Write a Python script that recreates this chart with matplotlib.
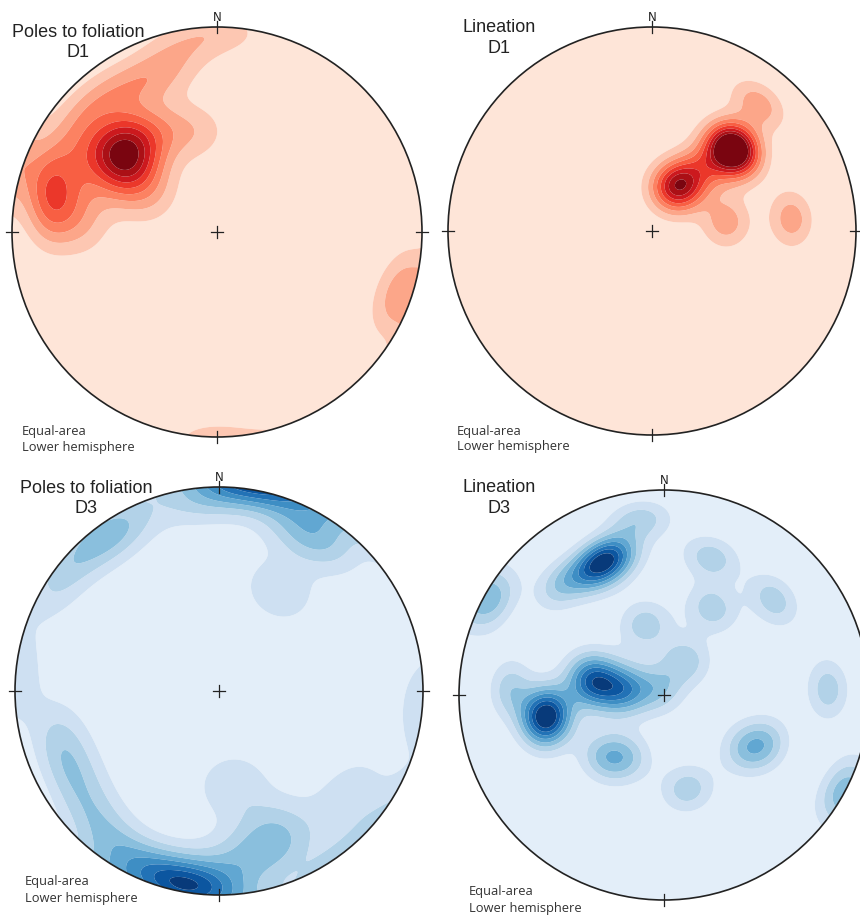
import numpy as np
import matplotlib.pyplot as plt
from matplotlib.patches import Circle

# D1 foliation planes (strike / dip, right-hand rule)
fol_d1_strike = [38.6, 40, 38.5, 38.6, 46.8, 30, 35.8, 48, 28.8, 60.8, 32.8,
                 19, 17.4, 7.6, 6, 3.9, 16,
                 70, 78, 91, 48.4, 59.4, 37,
                 78, 196, 201]
fol_d1_dip = [49, 52.6, 45, 57.4, 45.6, 46.4, 39.2, 56.6, 30.6, 47.6, 63,
              76, 76.8, 69.6, 68.4, 54.2, 63.6,
              69, 80, 87.5, 75, 72.2, 75.6,
              41, 85, 82.2]

# D1 lineations (trend / plunge)
lin_d1_trend = [43, 43, 44, 48, 45, 26, 33, 30, 38, 40, 83, 85]
lin_d1_plunge = [43, 48, 39, 44, 43, 72, 68, 69, 59, 20, 60, 32]

# D3 foliation planes (strike / dip)
fol_d3_strike = [278, 280, 283, 274, 291, 302, 315, 329.7, 263, 249,
                 261.5, 249.2, 219.4, 343, 58, 124, 121, 4.6, 84.3, 34.9,
                 51.8, 116.7]
fol_d3_dip = [85, 84.5, 85, 88, 83, 81, 75, 70.6, 72, 72,
              38.6, 59.6, 70.7, 70, 82, 78, 48, 89.6, 83.4, 84.4,
              83.5, 77.2]

# D3 lineations (trend / plunge)
lin_d3_trend = [335, 336, 329, 341, 352, 317,
                277, 283, 284, 276, 278, 320, 32,
                259, 260, 262, 257, 272, 345,
                299, 118, 19, 29, 49, 88, 116, 123, 212, 224, 166]
lin_d3_plunge = [30, 30, 31, 27, 15, 27,
                 62, 64, 57, 72, 76, 87, 74,
                 41, 42, 45, 36, 26, 61,
                 7, 4, 30, 50, 30, 21, 44, 51, 61, 55, 51]

W, H = 860, 916


def line_vectors(trend, plunge):
    t = np.radians(trend)
    p = np.radians(plunge)
    return np.column_stack([np.cos(p) * np.sin(t), np.cos(p) * np.cos(t), np.sin(p)])


def pole_vectors(strike, dip):
    trend = np.asarray(strike) - 90.0
    plunge = 90.0 - np.asarray(dip)
    return line_vectors(trend, plunge)


def density(vecs, k, n=301):
    # smoothed (exponential) count on an equal-area lower-hemisphere grid
    u, v = np.meshgrid(np.linspace(-1, 1, n), np.linspace(-1, 1, n))
    r = np.clip(np.hypot(u, v), 0, 1)
    theta = 2 * np.arcsin(r / np.sqrt(2))
    az = np.arctan2(u, v)
    g = np.stack([np.sin(theta) * np.sin(az), np.sin(theta) * np.cos(az), np.cos(theta)], axis=-1)
    c = np.abs(g @ vecs.T)
    return u, v, np.exp(k * (c - 1)).sum(axis=-1)


def stereonet(cx, cy, R):
    ax = fig.add_axes([(cx - 1.15 * R) / W, (H - cy - 1.15 * R) / H, 2.3 * R / W, 2.3 * R / H])
    ax.set_xlim(-1.15, 1.15)
    ax.set_ylim(-1.15, 1.15)
    ax.axis("off")
    return ax


def draw_net(ax, vecs, k, step, cmap):
    u, v, d = density(vecs, k)
    levels = [-1] + [step * i for i in range(1, 9)] + [1e9]
    colors = plt.get_cmap(cmap)(np.linspace(0.1, 0.96, 9))
    clip = Circle((0, 0), 1, transform=ax.transData)
    cs = ax.contourf(u, v, d, levels=levels, colors=colors, antialiased=True)
    cs.set_clip_path(clip)
    ax.add_patch(Circle((0, 0), 1, fill=False, lw=1.2, ec="#222222", zorder=3))
    t = 0.03
    # N / E / S / W ticks and centre cross
    ax.plot([0, 0], [1 - t, 1 + t], color="#222222", lw=0.9, zorder=4)
    ax.plot([0, 0], [-1 - t, -1 + t], color="#222222", lw=0.9, zorder=4)
    ax.plot([1 - t, 1 + t], [0, 0], color="#222222", lw=0.9, zorder=4)
    ax.plot([-1 - t, -1 + t], [0, 0], color="#222222", lw=0.9, zorder=4)
    ax.plot([-t, t], [0, 0], color="#222222", lw=0.9, zorder=4)
    ax.plot([0, 0], [-t, t], color="#222222", lw=0.9, zorder=4)
    ax.text(0, 1.046, "N", ha="center", va="center", fontsize=8.5,
            family=["Liberation Sans Narrow", "DejaVu Sans"], color="#222222")


def px_text(x, y, s, **kw):
    fig.text(x / W, 1 - y / H, s, **kw)


fig = plt.figure(figsize=(W / 100, H / 100), dpi=100)

panels = [
    (217, 232, 205, pole_vectors(fol_d1_strike, fol_d1_dip), 45, 0.7, "Reds"),
    (652, 231, 204, line_vectors(lin_d1_trend, lin_d1_plunge), 70, 0.385, "Reds"),
    (219, 691, 204, pole_vectors(fol_d3_strike, fol_d3_dip), 35, 0.55, "Blues"),
    (664, 695, 205, line_vectors(lin_d3_trend, lin_d3_plunge), 70, 0.38, "Blues"),
]
for cx, cy, R, vecs, k, step, cmap in panels:
    ax = stereonet(cx, cy, R)
    draw_net(ax, vecs, k, step, cmap)

title_font = dict(fontsize=13, family="Liberation Sans", ha="center", va="baseline", color="#222222")
titles = [
    (78, 37, 57, "Poles to foliation", "D1"),
    (499, 32, 53, "Lineation", "D1"),
    (86, 493, 513, "Poles to foliation", "D3"),
    (499, 492, 513, "Lineation", "D3"),
]
for x, y1, y2, line1, line2 in titles:
    px_text(x, y1, line1, **title_font)
    px_text(x, y2, line2, **title_font)

note_font = dict(fontsize=9.3, family="Open Sans", ha="left", va="baseline", color="#333333")
notes = [(22, 435, 451), (457, 435, 450), (25, 885, 902), (469, 895, 912)]
for x, y1, y2 in notes:
    px_text(x, y1, "Equal-area", **note_font)
    px_text(x, y2, "Lower hemisphere", **note_font)

fig.savefig("out.png", dpi=100, facecolor="white")
